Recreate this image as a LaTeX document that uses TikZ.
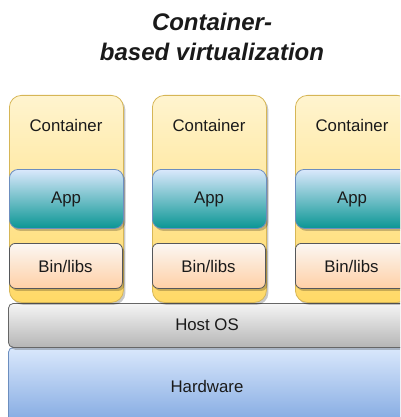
\documentclass[tikz,border=0pt]{standalone}
\usepackage{fontspec}
\setmainfont{Liberation Sans}
\usetikzlibrary{shadows}

\definecolor{ctrTop}{HTML}{FFF4CF}
\definecolor{ctrBot}{HTML}{FFD966}
\definecolor{ctrLine}{HTML}{D6B656}
\definecolor{appTop}{HTML}{DAE8FC}
\definecolor{appBot}{HTML}{0A9694}
\definecolor{blueLine}{HTML}{6C8EBF}
\definecolor{binTop}{HTML}{FBF7F3}
\definecolor{binBot}{HTML}{FFD0A6}
\definecolor{binLine}{HTML}{55575A}
\definecolor{osTop}{HTML}{F5F5F5}
\definecolor{osBot}{HTML}{B5B5B5}
\definecolor{osLine}{HTML}{666666}
\definecolor{hwTop}{HTML}{DAE8FC}
\definecolor{hwBot}{HTML}{7EA6E0}
\definecolor{ink}{HTML}{1A1A1A}

\tikzset{
  layer/.style={draw, line width=0.8pt, inner sep=0pt, anchor=north west,
    drop shadow={shadow xshift=2pt, shadow yshift=-2.5pt, opacity=0.22, fill=black}},
  ctrbox/.style={layer, draw=ctrLine, top color=ctrTop, bottom color=ctrBot,
    rounded corners=12pt, minimum width=114pt, minimum height=207pt},
  appbox/.style={layer, draw=blueLine, top color=appTop, bottom color=appBot,
    rounded corners=9pt, minimum width=114pt, minimum height=59pt},
  binbox/.style={layer, draw=binLine, top color=binTop, bottom color=binBot,
    rounded corners=6pt, minimum width=113pt, minimum height=45pt},
  osbox/.style={layer, draw=osLine, top color=osTop, bottom color=osBot,
    rounded corners=5pt, minimum width=400pt, minimum height=44pt},
  hwbox/.style={layer, draw=blueLine, top color=hwTop, bottom color=hwBot,
    rounded corners=5pt, minimum width=400pt, minimum height=80pt},
  lbl/.style={text=ink, inner sep=0pt, font=\fontsize{16.8}{18}\selectfont},
  ttl/.style={text=ink, inner sep=0pt, align=center,
    font=\fontsize{24}{30}\selectfont\bfseries\itshape},
}

\begin{document}
\begin{tikzpicture}[x=1pt, y=-1pt]
  \useasboundingbox (0,0) rectangle (400,417);
  \clip (0,0) rectangle (400,417);

  % title
  \node[ttl] (title) at (212,37) {Container-\\based virtualization};

  % host operating system and hardware
  \node[hwbox] (hw) at (8,347) {};
  \node[osbox] (os) at (8,303) {};
  \node[lbl] (hwt) at (207,386) {Hardware};
  \node[lbl] (ost) at (207,325) {Host OS};

  % the three containers
  \foreach \i/\x in {1/9, 2/152, 3/295} {
    \node[ctrbox] (c\i) at (\x,95) {};
    \node[appbox] (app\i) at (\x,169) {};
    \node[binbox] (bin\i) at (\x,243) {};
    \node[lbl] (c\i t) at (\x+57,125) {Container};
    \node[lbl] (app\i t) at (\x+57,199) {App};
    \node[lbl] (bin\i t) at (\x+56.5,266) {Bin/libs};
  }
\end{tikzpicture}
\end{document}
